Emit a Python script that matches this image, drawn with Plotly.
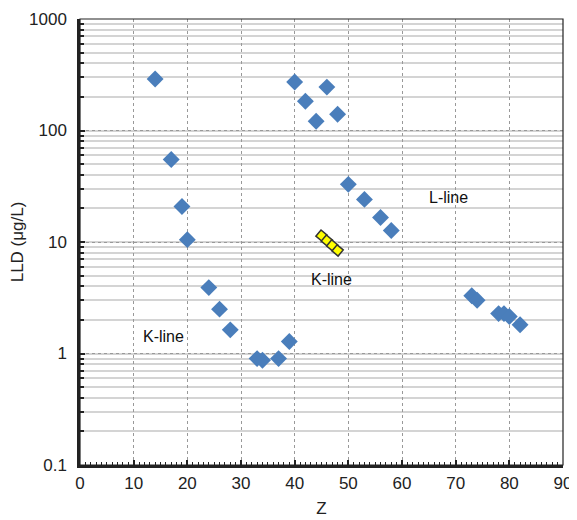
import math
import plotly.graph_objects as go

# Data
z_blue = [14, 17, 19, 20, 24, 26, 28, 33, 34, 37, 39,
          40, 42, 44, 46, 48, 50, 53, 56, 58,
          73, 74, 78, 79, 80, 82]
lld_blue = [290, 55, 20.8, 10.5, 3.9, 2.5, 1.63, 0.90, 0.87, 0.90, 1.28,
            272, 183, 121, 245, 140, 32.9, 24.1, 16.6, 12.7,
            3.3, 3.0, 2.28, 2.28, 2.15, 1.81]
z_yellow = [45, 46, 47, 48]
lld_yellow = [11.4, 10.3, 9.3, 8.4]

x_ticks = [0, 10, 20, 30, 40, 50, 60, 70, 80, 90]
y_ticks = [0.1, 1, 10, 100, 1000]
y_ticklabels = ["0.1", "1", "10", "100", "1000"]

labels = [("K-line", 15.5, 1.41), ("K-line", 46.8, 4.6), ("L-line", 68.7, 25)]

FONT = "Liberation Sans, Arial, sans-serif"

fig = go.Figure()
fig.add_trace(go.Scatter(
    x=z_blue, y=lld_blue, mode="markers",
    marker=dict(symbol="diamond", size=13, color="#4A7EBB",
                line=dict(width=0)),
    showlegend=False))
fig.add_trace(go.Scatter(
    x=z_yellow, y=lld_yellow, mode="markers",
    marker=dict(symbol="square", size=8, color="#FFFF00", angle=40,
                line=dict(width=1.5, color="#333333")),
    showlegend=False))

for txt, x, y in labels:
    fig.add_annotation(x=x, y=math.log10(y), yref="y", xref="x", text=txt, showarrow=False,
                       font=dict(family=FONT, size=16, color="#111111"))

# thin frame on top/right
fig.add_shape(type="rect", xref="paper", yref="paper", x0=0, x1=1, y0=0, y1=1,
              line=dict(color="#222222", width=1.2), layer="above")

fig.update_layout(
    width=569, height=512,
    margin=dict(l=72, r=14, t=11, b=55),
    paper_bgcolor="white", plot_bgcolor="white",
    font=dict(family=FONT, size=16, color="#222222"),
)
fig.update_xaxes(
    range=[0, 90], tickvals=x_ticks, automargin=False,
    showline=True, linecolor="#222222", linewidth=2.5,
    ticks="inside", ticklen=5, tickcolor="#222222", tickwidth=1.5,
    showgrid=True, gridcolor="#999999", griddash="3px,3px", gridwidth=1,
    zeroline=False,
    minor=dict(dtick=1, ticks="inside", ticklen=3, tickcolor="#222222", tickwidth=1, showgrid=False),
    title=dict(text="Z", font=dict(size=17), standoff=10),
    tickfont=dict(size=17), ticklabelstandoff=1,
)
fig.update_yaxes(
    type="log", range=[-1, 3], tickvals=y_ticks, ticktext=y_ticklabels, automargin=False,
    showline=True, linecolor="#222222", linewidth=2.5,
    ticks="inside", ticklen=5, tickcolor="#222222", tickwidth=1.5,
    showgrid=True, gridcolor="#999999", griddash="3px,3px", gridwidth=1,
    zeroline=False,
    minor=dict(dtick="D1", ticks="inside", ticklen=4, tickcolor="#222222", tickwidth=1.5,
               showgrid=True, gridcolor="#d4d4d4", gridwidth=1.5, griddash="solid"),
    title=dict(text="LLD (μg/L)", font=dict(size=17), standoff=14),
    tickfont=dict(size=17), ticklabelstandoff=7,
)

fig.write_html("out.html")
